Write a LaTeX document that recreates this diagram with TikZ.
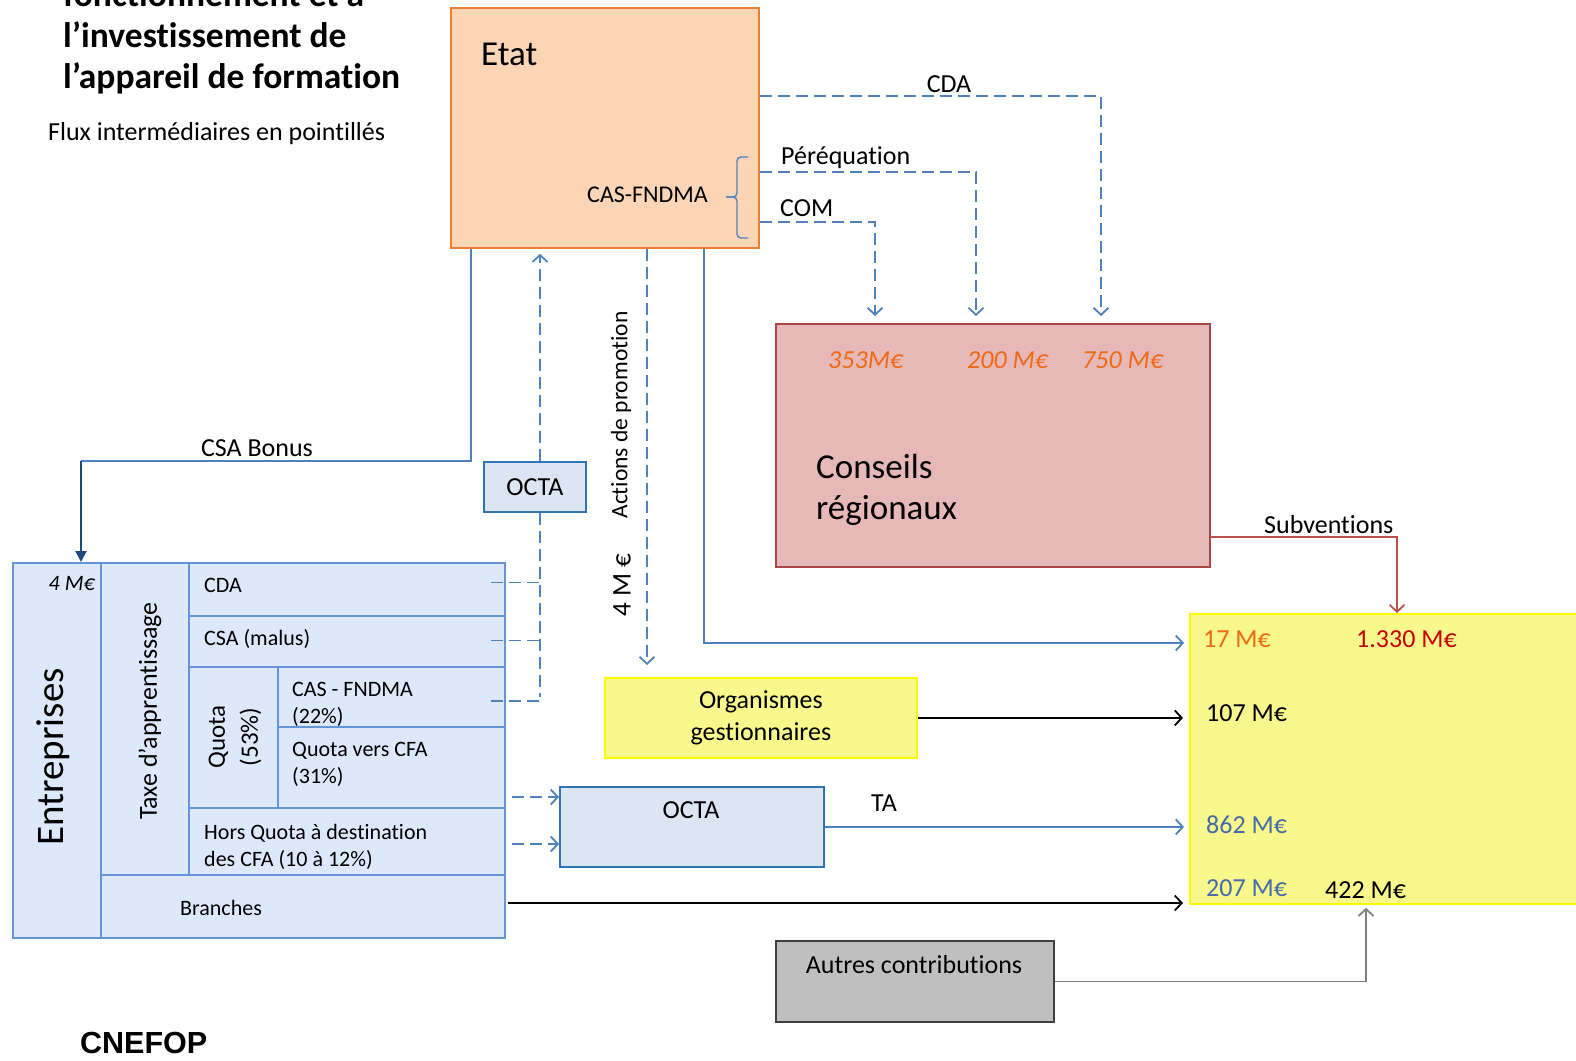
\documentclass[tikz,border=0pt]{standalone}
\usepackage{fontspec}
\setmainfont{Carlito}[Ligatures=NoCommon]
\newfontfamily\arialfont{Liberation Sans}
\usetikzlibrary{calc, arrows.meta, positioning}

\definecolor{etatfill}{RGB}{251,213,181}
\definecolor{etatdraw}{RGB}{237,125,49}
\definecolor{flowblue}{RGB}{79,129,189}
\definecolor{darkblue}{RGB}{31,73,125}
\definecolor{octafill}{RGB}{220,230,242}
\definecolor{octadraw}{RGB}{46,117,182}
\definecolor{entfill}{RGB}{221,233,251}
\definecolor{entdraw}{RGB}{100,149,215}
\definecolor{crfill}{RGB}{230,184,183}
\definecolor{crdraw}{RGB}{170,70,70}
\definecolor{cfafill}{RGB}{248,248,140}
\definecolor{cfadraw}{RGB}{250,250,0}
\definecolor{autfill}{RGB}{191,191,191}
\definecolor{autdraw}{RGB}{64,64,64}
\definecolor{subred}{RGB}{192,80,77}
\definecolor{montorange}{RGB}{240,105,20}
\definecolor{montred}{RGB}{200,0,0}
\definecolor{montblue}{RGB}{68,108,170}

\newcommand{\ftitle}{\fontsize{35.5}{41}\selectfont\bfseries}
\newcommand{\fbig}{\fontsize{35}{41}\selectfont}
\newcommand{\fent}{\fontsize{39}{45}\selectfont}
\newcommand{\flabel}{\fontsize{26}{32}\selectfont}
\newcommand{\fcell}{\fontsize{22}{27}\selectfont}

\begin{document}
\begin{tikzpicture}[x=1pt, y=-1pt,
    >={Straight Barb[length=7pt,width=15pt]},
    txt/.style={inner sep=0pt, anchor=base west},
    box/.style={anchor=north west, inner sep=0pt, line width=1.8pt},
    cell/.style={draw=entdraw, fill=entfill, line width=2pt, anchor=north west, inner sep=0pt},
    flow/.style={draw=flowblue, line width=1.8pt},
    dashflow/.style={flow, dash pattern=on 12pt off 6pt},
    darkflow/.style={draw=darkblue, line width=2.2pt, -{Triangle[length=11pt,width=11pt]}},
    blackflow/.style={draw=black, line width=1.8pt},
    subflow/.style={draw=subred, line width=1.8pt},
    grayflow/.style={draw=gray, line width=1.8pt}]
  \useasboundingbox (0,0) rectangle (1576,1060);

  % Title
  \node[txt, font=\ftitle] (title1) at (63,6) {fonctionnement et à};
  \node[txt, font=\ftitle] (title2) at (63,47) {l’investissement de};
  \node[txt, font=\ftitle] (title3) at (63,88) {l’appareil de formation};
  \node[txt, font=\flabel] (legend) at (48,140) {Flux intermédiaires en pointillés};
  \node[txt, font=\arialfont\fontsize{30.5}{36}\selectfont\bfseries] (source) at (80,1053) {CNEFOP};

  % Boxes
  \node[box, draw=etatdraw, fill=etatfill, minimum width=308pt, minimum height=240pt] (etat) at (450,7) {};
  \node[box, draw=crdraw, fill=crfill, minimum width=434pt, minimum height=243pt] (cr) at (775,323) {};
  \node[box, draw=octadraw, fill=octafill, minimum width=102pt, minimum height=50pt, font=\flabel] (octa1) at (483,461) {OCTA};
  \node[box, draw=cfadraw, fill=cfafill, minimum width=312pt, minimum height=80pt, font=\flabel, align=center] (org) at (604,677) {Organismes\\gestionnaires};
  \node[box, draw=octadraw, fill=octafill, minimum width=264pt, minimum height=80pt] (octa2) at (559,786) {};
  \node[box, draw=cfadraw, fill=cfafill, minimum width=420pt, minimum height=290pt] (cfa) at (1189,613) {};
  \node[box, draw=autdraw, fill=autfill, minimum width=278pt, minimum height=81pt] (autres) at (775,940) {};

  % Entreprises table
  \node[cell, minimum width=88pt, minimum height=375pt] (ent) at (12,562) {};
  \node[cell, minimum width=88pt, minimum height=312pt] (taxe) at (100,562) {};
  \node[cell, minimum width=316pt, minimum height=53pt] (cda) at (188,562) {};
  \node[cell, minimum width=316pt, minimum height=51pt] (csa) at (188,615) {};
  \node[cell, minimum width=89pt, minimum height=141pt] (quota) at (188,666) {};
  \node[cell, minimum width=227pt, minimum height=60pt] (cas) at (277,666) {};
  \node[cell, minimum width=227pt, minimum height=81pt] (qcfa) at (277,726) {};
  \node[cell, minimum width=316pt, minimum height=67pt] (hors) at (188,807) {};
  \node[cell, minimum width=404pt, minimum height=63pt] (branches) at (100,874) {};

  % Texts in the boxes
  \node[txt, font=\fbig] (etattxt) at (481,65) {Etat};
  \node[txt, font=\fontsize{24}{29}\selectfont] (castxt) at (587,202) {CAS-FNDMA};
  \node[txt, font=\fbig] (crtxt1) at (816,478) {Conseils};
  \node[txt, font=\fbig] (crtxt2) at (816,519) {régionaux};
  \node[txt, font=\flabel\itshape, text=montorange] (cr353) at (828,368) {353M€};
  \node[txt, font=\flabel\itshape, text=montorange] (cr200) at (967,368) {200 M€};
  \node[txt, font=\flabel\itshape, text=montorange] (cr750) at (1082,368) {750 M€};
  \node[anchor=base, inner sep=0pt, font=\flabel] (octa2txt) at (691,818) {OCTA};
  \node[anchor=base, inner sep=0pt, font=\flabel] (autrestxt) at (914,973) {Autres contributions};
  \node[txt, font=\flabel, text=montorange] (cfa17) at (1203,647) {17 M€};
  \node[txt, font=\flabel, text=montred] (cfa1330) at (1356,647) {1.330 M€};
  \node[txt, font=\flabel] (cfa107) at (1206,721) {107 M€};
  \node[txt, font=\flabel, text=montblue] (cfa862) at (1206,833) {862 M€};
  \node[txt, font=\flabel, text=montblue] (cfa207) at (1206,896) {207 M€};
  \node[txt, font=\flabel] (cfa422) at (1325,898) {422 M€};

  % Texts in the table
  \node[anchor=base east, inner sep=0pt, font=\fcell\itshape] (ent4) at (95,590) {4 M€};
  \node[rotate=90, font=\fent] (enttxt) at (53,757) {Entreprises};
  \node[rotate=90, font=\flabel] (taxetxt) at (150,711) {Taxe d’apprentissage};
  \node[rotate=90, font=\fontsize{25}{33}\selectfont, align=center] (quotatxt) at (235,737) {Quota\\(53\%)};
  \node[txt, font=\fcell] (cdatxt) at (204,592) {CDA};
  \node[txt, font=\fcell] (csatxt) at (204,645) {CSA (malus)};
  \node[txt, font=\fcell, align=left] (castxt2) at (292,723) {CAS - FNDMA\\(22\%)};
  \node[txt, font=\fcell, align=left] (qcfatxt) at (292,783) {Quota vers CFA\\(31\%)};
  \node[txt, font=\fcell, align=left] (horstxt) at (204,866) {Hors Quota à destination\\des CFA (10 à 12\%)};
  \node[txt, font=\fcell] (branchtxt) at (180,915) {Branches};

  % Brace on the CAS-FNDMA
  \draw[flow, line width=1.4pt, rounded corners=4pt] (748,157) -- (737,157) -- (737,197) -- (726,197);
  \draw[flow, line width=1.4pt, rounded corners=4pt] (748,238) -- (737,238) -- (737,197) -- (726,197);

  % Flows out of the Etat
  \coordinate (bonus) at (471,461);
  \coordinate (entin) at (81,562);
  \draw[flow] (etat.south -| bonus) -- (bonus) -- (bonus -| entin);
  \draw[darkflow] (bonus -| entin) -- (ent.north -| entin);
  \node[anchor=base, inner sep=0pt, font=\flabel] (bonustxt) at (257,456) {CSA Bonus};

  \coordinate (octx) at (540,0);
  \draw[dashflow, ->, shorten >=5pt] (octa1.north -| octx) -- (etat.south -| octx);
  \draw[dashflow] (octa1.south -| octx) -- (octx |- cas.east);
  \foreach \r/\dy in {cda/-7, csa/-1, cas/4}
    \draw[dashflow] ($(\r.east)+(-15,\dy)$) -- ($(\r.east -| octx)+(0,\dy)$);

  \coordinate (promo) at (647,0);
  \draw[dashflow, ->, shorten >=12pt] (etat.south -| promo) -- (org.north -| promo);
  \node[rotate=90, font=\fontsize{23.5}{28}\selectfont] (promotxt) at (621,415) {Actions de promotion};
  \node[rotate=90, font=\fontsize{27}{32}\selectfont] (promo4) at (622,585) {4 M €};

  \coordinate (direct) at (704,643);
  \draw[flow, ->, shorten >=5pt] (etat.south -| direct) -- (direct) -- (cfa.west |- direct);

  % Flows to the Conseils regionaux
  \coordinate (cdax) at (1101,96);
  \coordinate (perx) at (976,172);
  \coordinate (comx) at (875,222);
  \foreach \p in {cdax, perx, comx}
    \draw[dashflow, ->, shorten >=7pt] (etat.east |- \p) -| (cr.north -| \p);
  \node[anchor=base, inner sep=0pt, font=\flabel] (cdatop) at (949,92) {CDA};
  \node[txt, font=\flabel] (pertxt) at (781,164) {Péréquation};
  \node[txt, font=\flabel] (comtxt) at (780,216) {COM};

  % Flows to the CFA
  \coordinate (subx) at (1397,537);
  \draw[subflow, ->] (cr.east |- subx) -| (cfa.north -| subx);
  \node[txt, font=\flabel] (subtxt) at (1264,533) {Subventions};

  \draw[blackflow, ->, shorten >=6pt] (org.east) -- (cfa.west |- org.east);
  \draw[flow, ->, shorten >=5pt] (octa2.east) -- (cfa.west |- octa2.east);
  \node[anchor=base, inner sep=0pt, font=\flabel] (tatxt) at (884,811) {TA};

  \coordinate (hq1) at (512,797);
  \coordinate (hq2) at (512,844);
  \foreach \p in {hq1, hq2}
    \draw[dashflow, ->] (\p) -- (octa2.west |- \p);

  \coordinate (brx) at (508,903);
  \draw[blackflow, ->, shorten >=6pt] (brx) -- (cfa.west |- brx);

  \coordinate (autx) at (1366,0);
  \draw[grayflow, ->, shorten >=3pt] (autres.east) -| (cfa.south -| autx);
\end{tikzpicture}
\end{document}
